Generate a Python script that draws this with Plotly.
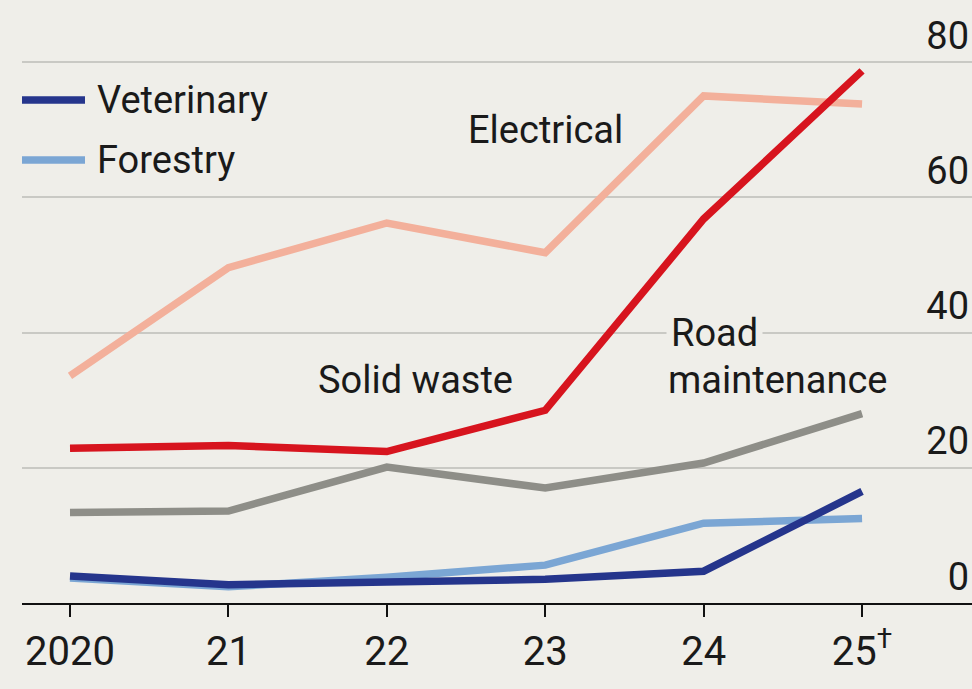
import plotly.graph_objects as go

years = [2020, 2021, 2022, 2023, 2024, 2025]
tick_labels = ["2020", "21", "22", "23", "24", "25<sup>†</sup>"]

electrical = [33.6, 49.6, 56.2, 51.8, 75.0, 73.8]
solid_waste = [22.9, 23.3, 22.4, 28.5, 56.8, 78.7]
road_maintenance = [13.4, 13.6, 20.1, 17.0, 20.7, 28.0]
forestry = [3.7, 2.4, 3.8, 5.6, 11.8, 12.5]
veterinary = [4.0, 2.7, 3.1, 3.5, 4.7, 16.5]

y_ticks = [0, 20, 40, 60, 80]

BG = "#efeee9"
FONT = "Roboto, Arial, sans-serif"
TXT = "#1a1a1a"
LBL = 38

series = [
    ("Electrical", electrical, "#f3b09b"),
    ("Road maintenance", road_maintenance, "#8e8e88"),
    ("Forestry", forestry, "#7ba6d4"),
    ("Solid waste", solid_waste, "#d7141e"),
    ("Veterinary", veterinary, "#25358c"),
]

fig = go.Figure()
for name, vals, col in series:
    fig.add_trace(go.Scatter(x=years, y=vals, mode="lines", name=name,
                             line=dict(color=col, width=7.5), showlegend=False))

fig.update_layout(
    width=972, height=689,
    margin=dict(l=22, r=0, t=8, b=86),
    paper_bgcolor=BG, plot_bgcolor=BG,
    font=dict(family=FONT, size=LBL, color=TXT),
    xaxis=dict(range=[2019.697, 2025.694], tickmode="array", tickvals=years,
               ticktext=tick_labels, showgrid=False, zeroline=False,
               showline=True, linecolor="#111", linewidth=2,
               ticks="outside", ticklen=12, tickwidth=2, tickcolor="#111",
               tickfont=dict(family=FONT, size=40, color=TXT)),
    yaxis=dict(range=[0, 88], side="right", tickmode="array", tickvals=y_ticks,
               ticklabelposition="inside top", showgrid=True,
               gridcolor="#c9c9c4", gridwidth=2, zeroline=False, showline=False,
               ticks="", tickfont=dict(family=FONT, size=38, color=TXT)),
)

# Series labels
fig.add_annotation(x=2023.0, y=69.9, text="Electrical", showarrow=False,
                   xanchor="center", yanchor="middle", font=dict(size=LBL))
fig.add_annotation(x=2022.18, y=33.0, text="Solid waste", showarrow=False,
                   xanchor="center", yanchor="middle", font=dict(size=LBL))
fig.add_annotation(x=2023.76, y=39.9, text="Road", showarrow=False,
                   xanchor="left", yanchor="middle", bgcolor=BG,
                   borderpad=4, font=dict(size=LBL))
fig.add_annotation(x=2023.76, y=33.0, text="maintenance", showarrow=False,
                   xanchor="left", yanchor="middle", font=dict(size=LBL))

# Legend (keys for the two blue series)
for ypix, name, col in [(100, "Veterinary", "#25358c"), (160, "Forestry", "#7ba6d4")]:
    yp = (595 - ypix + 8) / 595
    fig.add_shape(type="line", xref="paper", yref="paper",
                  x0=0, x1=63 / 950, y0=yp, y1=yp,
                  line=dict(color=col, width=7.5))
    fig.add_annotation(xref="paper", yref="paper", x=73 / 950, y=yp,
                       text=name, showarrow=False, xanchor="left",
                       yanchor="middle", font=dict(size=LBL))

fig.write_html("out.html",
               config={"displayModeBar": False},
               post_script="document.body.style.margin='0';"
                           "document.body.style.background='#efeee9';"
                           "document.body.style.overflow='hidden';")
